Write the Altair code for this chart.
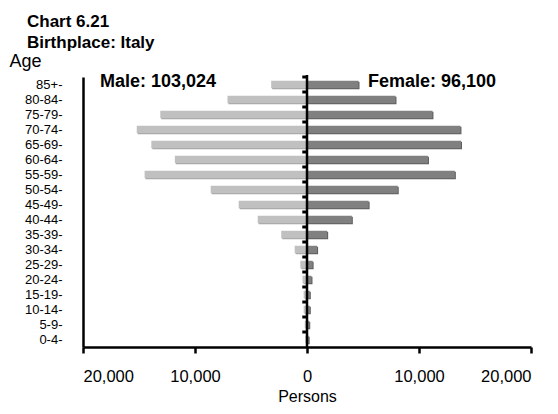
import altair as alt
import pandas as pd

ages = ["85+", "80-84", "75-79", "70-74", "65-69", "60-64", "55-59", "50-54", "45-49",
        "40-44", "35-39", "30-34", "25-29", "20-24", "15-19", "10-14", "5-9", "0-4"]
male = [3200, 7100, 13100, 15200, 13900, 11800, 14500, 8600, 6100,
        4400, 2300, 1100, 600, 400, 300, 300, 200, 150]
female = [4600, 7900, 11200, 13700, 13750, 10800, 13200, 8100, 5500,
          4000, 1800, 900, 500, 400, 250, 250, 200, 150]
sexes = ["Male", "Female"]
x_ticks = [-20000, -10000, 0, 10000, 20000]
title_lines = ["Chart 6.21", "Birthplace: Italy"]
male_label = "Male: 103,024"
female_label = "Female: 96,100"

rows = []
for a, m, f in zip(ages, male, female):
    rows.append({"age": a, "sex": "Male", "value": -m})
    rows.append({"age": a, "sex": "Female", "value": f})
df = pd.DataFrame(rows)
df_ages = pd.DataFrame({"age": ages})
one = pd.DataFrame({"d": [0]})

FONT = "Liberation Sans"

yscale = alt.Scale(paddingInner=0.5, paddingOuter=0.25)
yenc = alt.Y(
    "age:N", sort=ages, scale=yscale,
    axis=alt.Axis(title="Age", titleAngle=0, titleAlign="left", titleX=-74, titleY=-11,
                  titleBaseline="alphabetic", titleFontSize=18, titleFontWeight="normal",
                  titleColor="black",
                  labelExpr="datum.label + '-'", ticks=False, labelPadding=21,
                  labelFontSize=13, labelColor="black", domainColor="black",
                  domainWidth=2.5, grid=False),
)
xscale = alt.Scale(domain=[-20000, 20000], nice=False)
xenc = alt.X(
    "value:Q", scale=xscale,
    axis=alt.Axis(values=x_ticks, labelExpr="format(abs(datum.value), ',')",
                  title="Persons", tickSize=6, tickWidth=2.5, tickColor="black",
                  domainColor="black", domainWidth=2.5, labelFontSize=16.5,
                  labelColor="black", labelBaseline="alphabetic", labelPadding=28,
                  titleFontSize=16, titleFontWeight="normal", titleColor="black",
                  titleBaseline="alphabetic", titleY=54, grid=False),
)

color_scale = alt.Scale(domain=sexes, range=["#c0c0c0", "#808080"])
shadow_scale = alt.Scale(domain=sexes, range=["#a4a4a4", "#5e5e5e"])

shadow = alt.Chart(df).mark_bar(xOffset=1, yOffset=1).encode(
    x=alt.X("value:Q", scale=xscale),
    y=alt.Y("age:N", sort=ages, scale=yscale),
    color=alt.Color("sex:N", scale=shadow_scale, legend=None),
)

bars = alt.Chart(df).mark_bar().encode(
    x=xenc,
    y=yenc,
    fill=alt.Fill("sex:N", scale=color_scale, legend=None),
)

center = alt.Chart(one).mark_rule(color="black", strokeWidth=2.5).encode(
    x=alt.datum(0), y=alt.value(-2), y2=alt.value(270)
)

ticks = alt.Chart(df_ages).mark_rule(color="black", strokeWidth=3, yOffset=-3.75).encode(
    y=alt.Y("age:N", sort=ages, bandPosition=0),
    x=alt.datum(-420), x2=alt.datum(0),
)

def label(text, x, y, size, weight):
    return alt.Chart(pd.DataFrame({"t": [text]})).mark_text(
        align="left", baseline="alphabetic", fontSize=size, fontWeight=weight,
        font=FONT, color="black"
    ).encode(text="t:N", x=alt.value(x), y=alt.value(y))

t1 = label(title_lines[0], -56, -50, 17, "bold")
t2 = label(title_lines[1], -56, -29, 17, "bold")
ml = label(male_label, 17, 10, 18, "bold")
fl = label(female_label, 285, 10, 18, "bold")

chart = alt.layer(shadow, bars, ticks, center, t1, t2, ml, fl).resolve_scale(
    color="independent"
).properties(
    width=448, height=270,
    autosize=alt.AutoSizeParams(type="none"),
    padding={"left": 75, "top": 69, "right": 19, "bottom": 59},
).configure(font=FONT).configure_view(stroke=None)

chart.save("out.html", embed_options={"renderer": "svg", "actions": False})
